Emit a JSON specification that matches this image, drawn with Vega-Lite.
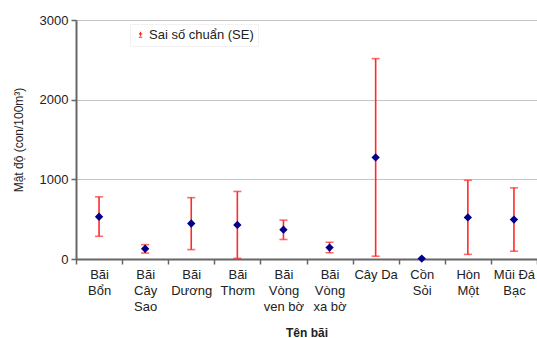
{
  "$schema": "https://vega.github.io/schema/vega-lite/v6.json",
  "width": 461,
  "height": 239,
  "autosize": "none",
  "padding": {"left": 76, "top": 20, "right": 0, "bottom": 79},
  "background": "white",
  "config": {
    "font": "Liberation Sans",
    "view": {"stroke": null}
  },
  "data": {
    "values": [
      {"site": "Bãi|Bổn", "mean": 530, "lo": 285, "hi": 780},
      {"site": "Bãi|Cây|Sao", "mean": 128, "lo": 75, "hi": 180},
      {"site": "Bãi|Dương", "mean": 445, "lo": 118, "hi": 770},
      {"site": "Bãi|Thơm", "mean": 428, "lo": 8, "hi": 848},
      {"site": "Bãi|Vòng|ven bờ", "mean": 368, "lo": 245, "hi": 488},
      {"site": "Bãi|Vòng|xa bờ", "mean": 143, "lo": 78, "hi": 210},
      {"site": "Cây Da", "mean": 1275, "lo": 35, "hi": 2515},
      {"site": "Cồn|Sỏi", "mean": 5, "lo": null, "hi": null},
      {"site": "Hòn|Một", "mean": 522, "lo": 58, "hi": 988},
      {"site": "Mũi Đá|Bạc", "mean": 495, "lo": 98, "hi": 893}
    ]
  },
  "encoding": {
    "x": {
      "field": "site",
      "type": "nominal",
      "sort": null,
      "scale": {
        "domain": ["Bãi|Bổn", "Bãi|Cây|Sao", "Bãi|Dương", "Bãi|Thơm", "Bãi|Vòng|ven bờ", "Bãi|Vòng|xa bờ", "Cây Da", "Cồn|Sỏi", "Hòn|Một", "Mũi Đá|Bạc"],
        "paddingInner": 0,
        "paddingOuter": 0
      },
      "axis": {
        "title": "Tên bãi",
        "titleFont": "Liberation Sans",
        "titleFontSize": 12,
        "titleFontWeight": "bold",
        "titleColor": "#222",
        "titlePadding": 14,
        "labelExpr": "datum.value ? split(datum.value, '|') : ''",
        "labelAngle": 0,
        "labelFontSize": 13,
        "labelColor": "#222",
        "labelLineHeight": 16,
        "labelPadding": 4,
        "labelBaseline": "top",
        "tickBand": "extent",
        "tickSize": 5,
        "tickColor": "#666",
        "tickWidth": 1.5,
        "domainColor": "#666",
        "domainWidth": 2,
        "grid": false
      }
    }
  },
  "layer": [
    {
      "mark": {"type": "rule", "strokeWidth": 1.6},
      "encoding": {
        "y": {
          "field": "lo",
          "type": "quantitative",
          "scale": {"domain": [0, 3000]},
          "axis": {
            "title": "Mật độ (con/100m³)",
            "titleFont": "Liberation Sans",
            "titleFontSize": 12,
            "titleFontWeight": "normal",
            "titleColor": "#222",
            "titlePadding": 14,
            "values": [0, 500, 1000, 1500, 2000, 2500, 3000],
            "format": "d",
            "labelFontSize": 13,
            "labelColor": "#222",
            "labelPadding": 3,
            "tickSize": 5,
            "tickColor": "#666",
            "tickWidth": 1.5,
            "domainColor": "#666",
            "domainWidth": 2,
            "grid": true,
            "gridColor": "#888",
            "gridDash": [1, 1],
            "gridWidth": 1
          }
        },
        "y2": {"field": "hi"},
        "color": {
          "datum": "Sai số chuẩn (SE)",
          "type": "nominal",
          "scale": {"range": ["#ff2a2a"]},
          "legend": {
            "title": null,
            "orient": "none",
            "legendX": 54,
            "legendY": 4,
            "symbolType": "M0,-1L0,0.6M-0.6,-0.2L0.6,-0.2M-0.6,1L0.6,1",
            "symbolStrokeWidth": 1.2,
            "symbolSize": 30,
            "symbolFillColor": "transparent",
            "labelFontSize": 13,
            "labelColor": "#222",
            "labelOffset": 2,
            "padding": 4,
            "strokeColor": "#f2f2f2"
          }
        }
      }
    },
    {
      "mark": {"type": "tick", "color": "#ff2a2a", "thickness": 1.6, "size": 8},
      "encoding": {"y": {"field": "hi", "type": "quantitative"}}
    },
    {
      "mark": {"type": "tick", "color": "#ff2a2a", "thickness": 1.6, "size": 8},
      "encoding": {"y": {"field": "lo", "type": "quantitative"}}
    },
    {
      "mark": {"type": "point", "shape": "diamond", "filled": true, "color": "#00008b", "size": 70, "opacity": 1},
      "encoding": {"y": {"field": "mean", "type": "quantitative"}}
    }
  ]
}
